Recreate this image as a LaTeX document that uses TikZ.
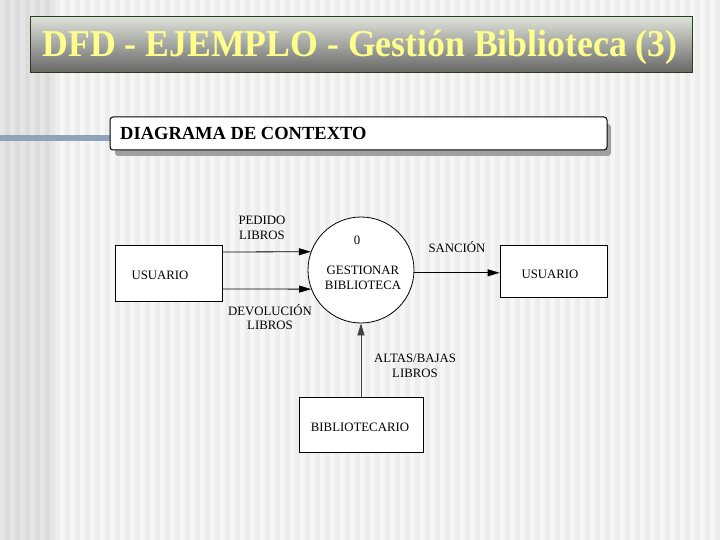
\documentclass[tikz,border=0pt]{standalone}
\usepackage{fontspec}
\setmainfont{Liberation Serif}
\usetikzlibrary{arrows.meta}
\definecolor{bgA}{HTML}{EDEDED}
\definecolor{bgB}{HTML}{F6F6F6}
\definecolor{bgL}{HTML}{DCDCDC}
\definecolor{bgLB}{HTML}{E6E6E6}
\definecolor{barblue}{HTML}{8FA3BA}
\definecolor{titletop}{HTML}{DDE2D8}
\definecolor{titlebot}{HTML}{666666}
\definecolor{titleborder}{HTML}{24401F}
\definecolor{titletext}{HTML}{FFFF8C}
\definecolor{shadowgray}{HTML}{A0A0A0}
\tikzset{
  entity/.style={draw=black, fill=white, line width=0.8pt, inner sep=0pt},
  proc/.style={circle, draw=black, fill=white, line width=0.8pt, inner sep=0pt, minimum size=106pt},
  lbl/.style={font=\fontsize{12.8}{14.5}\selectfont, align=center, inner sep=0pt},
  arr/.style={draw=black, line width=0.8pt, -{Triangle[length=12pt,width=7pt]}},
}
\begin{document}
\begin{tikzpicture}[x=1pt,y=-1pt]
\useasboundingbox (0,0) rectangle (720,540);
% background stripes
\fill[bgA] (0,0) rectangle (720,540);
\foreach \i in {0,...,71} \fill[bgB] (\i*10,0) rectangle ++(5,540);
\fill[bgL] (0,0) rectangle (54,540);
\foreach \i in {0,...,5} \fill[bgLB] (\i*10,0) rectangle ++(5,540);
% title
\node[draw=titleborder, line width=1pt, top color=titletop, bottom color=titlebot,
      minimum width=662pt, minimum height=56pt, inner sep=0pt] (title) at (361,45) {};
\node[anchor=base, text=titletext, inner sep=0pt] (titletx) at (360,57)
  {\scalebox{0.94}[1]{\fontsize{38}{40}\selectfont\bfseries DFD - EJEMPLO - Gestión Biblioteca (3)}};
% left bar
\fill[barblue] (0,135) rectangle (110,141);
% subtitle box
\fill[shadowgray, rounded corners=3pt] (115,124) rectangle (611,156);
\node[draw=black, fill=white, line width=1pt, rounded corners=3pt,
      minimum width=497pt, minimum height=33pt, inner sep=0pt] (sub) at (358.5,133.5) {};
\node[anchor=west, inner sep=0pt, font=\fontsize{18.5}{20}\selectfont\bfseries] (subtx) at (120,133)
  {DIAGRAMA DE CONTEXTO};
% entities
\node[entity, minimum width=107pt, minimum height=56pt] (u1) at (168.5,273) {};
\node[lbl] (u1t) at (160,275) {USUARIO};
\node[entity, minimum width=107pt, minimum height=52pt] (u2) at (553.5,271) {};
\node[lbl] (u2t) at (550,274) {USUARIO};
\node[entity, minimum width=124pt, minimum height=55pt] (bib) at (361,424.5) {};
\node[lbl] (bibt) at (360,427) {BIBLIOTECARIO};
% process
\node[proc] (p) at (361,270) {};
\node[lbl] (p0) at (357,240) {0};
\node[lbl] (p1) at (363,278) {GESTIONAR\\BIBLIOTECA};
% flows
\draw[arr] ([yshift=21pt]u1.east) -- (p.160);
\draw[arr] ([yshift=-16pt]u1.east) -- (p.201);
\draw[arr] (p.-3) -- (p.-3 -| u2.west);
\draw[arr, draw=black!75] (bib.north) -- (p.south);
% flow labels
\node[lbl] (l1) at (262,228) {PEDIDO\\LIBROS};
\node[lbl] (l2) at (270,317) {DEVOLUCIÓN\\LIBROS};
\node[lbl] (l3) at (457,247) {SANCIÓN};
\node[lbl] (l4) at (415,366) {ALTAS/BAJAS\\LIBROS};
\end{tikzpicture}
\end{document}
